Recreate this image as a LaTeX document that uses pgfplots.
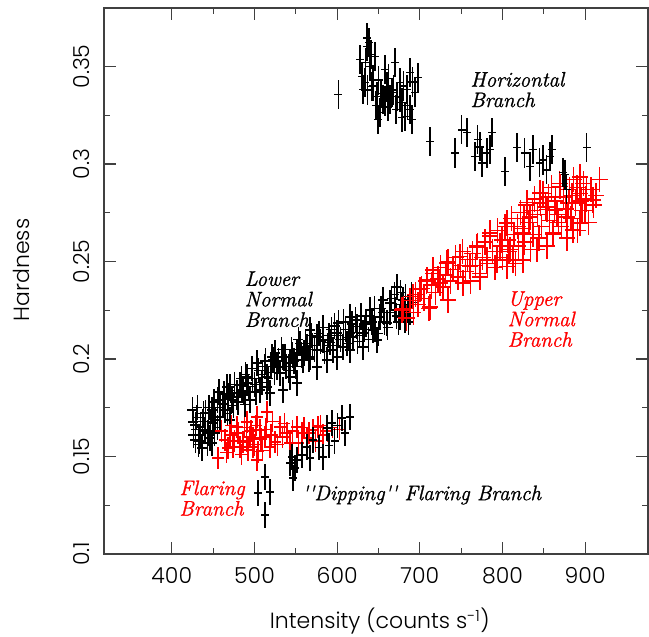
\documentclass[border=0pt]{standalone}
\usepackage{fontspec}
\usepackage{pgfplots}
\pgfplotsset{compat=1.18}
\newfontfamily\thin{Poppins}[UprightFont={* Light}]
\newfontfamily\ann{Latin Modern Roman}[FakeBold=1.2]

\pgfplotsset{
  bars/.style n args={3}{mark=none, draw=none,
    error bars/.cd, x dir=both, x fixed=#1, y dir=both, y fixed=#2,
    error mark=none, error bar style={draw=#3, line width=1.35pt, solid}},
}
\tikzset{annot/.style={anchor=north west, align=left, font=\ann\fontsize{21}{20.5}\selectfont\itshape}}

\begin{document}
\begin{tikzpicture}
\begin{axis}[
    scale only axis,
    width=544pt, height=546pt,
    xmin=318, xmax=976,
    ymin=0.1, ymax=0.38,
    xtick={400,500,600,700,800,900},
    ytick={0.1,0.15,0.2,0.25,0.3,0.35},
    yticklabels={0.1,0.15,0.2,0.25,0.3,0.35},
    minor x tick num=1,
    minor y tick num=1,
    tick align=inside,
    major tick length=12pt,
    minor tick length=6pt,
    axis line style={black!75, line width=1.2pt},
    tick style={black!75, line width=1.2pt},
    /pgf/number format/assume math mode=true,
    tick label style={font=\thin\fontsize{22}{22}\selectfont, inner sep=0pt},
    xticklabel style={anchor=north, yshift=-13pt},
    yticklabel style={rotate=90, anchor=south},
    yticklabel shift=14pt,
    xlabel={Intensity (counts s\textsuperscript{-1})},
    ylabel={Hardness},
    label style={font=\thin\fontsize{22}{22}\selectfont},
    xlabel style={at={(axis description cs:0.507,-0.137)}, anchor=base},
    ylabel style={at={(axis description cs:-0.151,0.52)}, anchor=center, rotate=0},
]
\coordinate (sw) at (rel axis cs:0,0);
\coordinate (ne) at (rel axis cs:1,1);

% lower normal branch
\addplot[bars={6}{0.0065}{black}] table {
x y
425.9 0.1677
428.3 0.1585
434.4 0.1652
440.4 0.1723
444.0 0.1621
448.8 0.1739
450.0 0.1672
454.9 0.1790
436.5 0.1544
448.8 0.1570
458.5 0.1703
466.9 0.1857
472.9 0.1790
479.0 0.1826
491.0 0.1877
494.6 0.1790
506.7 0.1841
515.2 0.1857
491.0 0.1908
470.5 0.1857
478.9 0.1805
515.1 0.1908
522.3 0.1995
527.2 0.1959
534.5 0.2011
542.9 0.1980
551.4 0.2031
558.7 0.1995
567.1 0.2149
563.5 0.2062
575.6 0.2047
582.9 0.2098
591.3 0.2083
599.8 0.2134
601.3 0.2185
607.1 0.2062
615.5 0.2216
619.1 0.2113
624.0 0.2165
631.2 0.2134
639.7 0.2252
643.3 0.2149
651.8 0.2216
655.4 0.2303
660.3 0.2185
663.9 0.2288
672.3 0.2370
669.9 0.2252
675.9 0.2216
679.6 0.2303
682.0 0.2200
685.6 0.2267
551.4 0.1877
534.5 0.1841
518.8 0.1826
542.9 0.1908
575.6 0.1959
587.7 0.1995
599.8 0.2011
615.5 0.2047
631.2 0.2062
648.2 0.2098
595.0 0.2047
575.6 0.2113
615.5 0.2134
567.1 0.2011
530.9 0.1928
428.3 0.1662
432.0 0.1560
440.2 0.1636
446.3 0.1595
424.7 0.1739
452.3 0.1688
464.5 0.1739
470.5 0.1688
482.5 0.1867
488.6 0.1765
426 0.161
430 0.170
433 0.158
437 0.168
441 0.163
445 0.175
452 0.162
457 0.183
462 0.177
468 0.181
475 0.176
484 0.190
487 0.183
497 0.195
500 0.187
503 0.198
510 0.192
513 0.199
520 0.196
525 0.203
538 0.196
545 0.205
548 0.199
555 0.208
560 0.203
570 0.207
578 0.213
585 0.204
590 0.212
597 0.217
604 0.210
610 0.215
612 0.208
622 0.220
627 0.212
635 0.218
640 0.222
646 0.215
653 0.226
657 0.219
666 0.231
672 0.222
678 0.228
683 0.232
688 0.224
692 0.229
429 0.164
431 0.175
435 0.161
438 0.172
443 0.157
447 0.168
451 0.178
455 0.165
459 0.175
463 0.182
467 0.172
471 0.184
476 0.187
480 0.178
485 0.184
489 0.192
493 0.186
498 0.190
502 0.183
505 0.194
509 0.188
512 0.196
517 0.190
521 0.201
524 0.193
529 0.199
533 0.205
537 0.201
541 0.194
546 0.202
550 0.196
553 0.210
557 0.202
562 0.208
566 0.200
569 0.212
573 0.205
580 0.209
583 0.216
588 0.207
593 0.215
599 0.207
602 0.212
608 0.219
614 0.211
618 0.218
625 0.209
629 0.222
633 0.215
638 0.210
642 0.219
645 0.226
650 0.213
656 0.224
661 0.216
664 0.224
669 0.233
674 0.219
677 0.234
681 0.225
686 0.219
690 0.233
};

% flaring branch
\addplot[bars={7.5}{0.0055}{red}] table {
x y
456.1 0.1493
464.4 0.1585
470.5 0.1611
478.9 0.1652
482.5 0.1549
491.0 0.1677
494.6 0.1600
503.1 0.1482
498.2 0.1549
506.7 0.1636
515.2 0.1729
512.8 0.1600
518.8 0.1549
524.9 0.1575
530.9 0.1652
539.4 0.1621
543.0 0.1570
551.5 0.1652
557.5 0.1621
563.5 0.1595
570.8 0.1636
576.8 0.1652
582.9 0.1611
486.3 0.1575
474.1 0.1549
468.0 0.1544
492.2 0.1534
504.3 0.1524
498.2 0.1595
503.1 0.1703
460 0.163
466 0.152
472 0.166
476 0.158
480 0.162
484 0.151
488 0.165
490 0.158
496 0.163
500 0.156
502 0.166
508 0.159
510 0.153
514 0.164
520 0.161
522 0.168
528 0.156
534 0.160
536 0.167
546 0.163
553 0.157
560 0.165
566 0.162
574 0.158
580 0.166
588 0.163
594 0.165
603 0.164
};

% upper normal branch
\addplot[bars={10}{0.0065}{red}] table {
x y
678.4 0.2252
691.7 0.2319
708.6 0.2406
715.9 0.2457
732.8 0.2493
748.5 0.2524
760.6 0.2473
769.1 0.2575
781.2 0.2508
784.8 0.2647
799.3 0.2611
805.3 0.2698
809.0 0.2560
812.6 0.2508
824.7 0.2647
829.5 0.2801
833.1 0.2729
841.6 0.2560
845.2 0.2852
853.7 0.2765
860.9 0.2647
869.4 0.2883
877.9 0.2729
885.1 0.2662
893.6 0.2934
902.0 0.2868
909.3 0.2816
917.7 0.2919
893.6 0.2698
734.0 0.2303
724.4 0.2390
700.2 0.2355
712.3 0.2267
752.1 0.2390
772.7 0.2421
793.2 0.2508
805.3 0.2473
824.7 0.2508
680 0.226
684 0.221
688 0.230
692 0.224
695 0.233
698 0.228
702 0.236
705 0.231
708 0.240
711 0.226
714 0.238
716 0.244
719 0.234
722 0.241
725 0.247
728 0.237
731 0.243
734 0.250
737 0.240
740 0.246
743 0.252
746 0.242
749 0.248
752 0.255
755 0.245
758 0.251
761 0.240
764 0.254
767 0.248
770 0.258
773 0.244
776 0.252
779 0.260
782 0.249
785 0.263
788 0.255
791 0.247
794 0.266
797 0.258
800 0.252
803 0.268
806 0.261
808 0.255
811 0.272
814 0.264
816 0.249
819 0.258
822 0.275
824 0.267
827 0.260
829 0.279
832 0.270
834 0.256
837 0.264
839 0.282
842 0.274
844 0.262
847 0.268
849 0.285
852 0.278
854 0.258
857 0.271
859 0.288
861 0.264
864 0.281
866 0.274
869 0.290
871 0.268
874 0.283
876 0.277
878 0.262
881 0.287
883 0.272
886 0.292
888 0.280
891 0.266
893 0.285
896 0.276
898 0.290
901 0.282
904 0.270
907 0.287
910 0.279
913 0.284
818 0.268
826 0.272
836 0.276
846 0.280
856 0.283
863 0.276
868 0.270
880 0.280
884 0.284
890 0.288
895 0.281
900 0.276
};

% horizontal branch
\addplot[bars={5}{0.0075}{black}] table {
x y
601.3 0.3355
627.6 0.3535
638.5 0.3622
636.1 0.3601
633.6 0.3417
639.7 0.3499
643.3 0.3432
648.1 0.3345
651.8 0.3263
649.4 0.3227
657.8 0.3483
660.3 0.3396
670.0 0.3519
663.9 0.3329
672.3 0.3345
675.9 0.3417
678.4 0.3314
682.0 0.3242
688.1 0.3468
688.1 0.3278
694.1 0.3365
697.8 0.3442
690.5 0.3227
684.4 0.3381
666.3 0.3365
661.5 0.3293
631.2 0.3381
642.1 0.3396
655.4 0.3329
645.7 0.3550
678.4 0.3237
630 0.345
634 0.352
637 0.338
641 0.356
644 0.340
647 0.330
650 0.343
653 0.336
658 0.332
662 0.344
668 0.338
671 0.328
676 0.334
680 0.340
685 0.330
691 0.342
636 0.3647
712.3 0.3114
750.8 0.3175
756.9 0.3160
742.4 0.3057
770.1 0.3124
772.6 0.3088
784.7 0.3073
787.1 0.3160
775.0 0.3006
766.6 0.3037
802.9 0.2960
817.4 0.3083
827.0 0.3057
836.7 0.3073
833.1 0.2986
848.8 0.3021
857.3 0.3037
859.7 0.3073
853.6 0.2970
873.0 0.2955
877.8 0.2868
902.0 0.3083
845.1 0.3006
781.1 0.3057
875.4 0.2945
};

% dipping flaring branch
\addplot[bars={5}{0.0065}{black}] table {
x y
615.5 0.1703
605.8 0.1698
609.5 0.1621
593.7 0.1672
587.7 0.1646
582.9 0.1497
570.8 0.1585
563.5 0.1549
567.1 0.1493
557.5 0.1508
551.4 0.1482
545.4 0.1498
549.0 0.1441
546.6 0.1390
543.0 0.1467
512.8 0.1395
504.3 0.1313
518.8 0.1318
512.8 0.1200
600.5 0.1660
597 0.1580
590 0.1555
578 0.1545
};

\node[annot] at (axis cs:757,0.349) {Horizontal\\Branch};
\node[annot] at (axis cs:484,0.2467) {Lower\\Normal\\Branch};
\node[annot, text=red] at (axis cs:802,0.2365) {Upper\\Normal\\Branch};
\node[annot, text=red] at (axis cs:405,0.1395) {Flaring\\Branch};
\node[annot] at (axis cs:553,0.137) {''Dipping'' Flaring Branch};
\end{axis}
\pgfresetboundingbox
\path ([shift={(-104pt,-83pt)}]sw) rectangle ([shift={(1pt,8pt)}]ne);
\end{tikzpicture}
\end{document}
